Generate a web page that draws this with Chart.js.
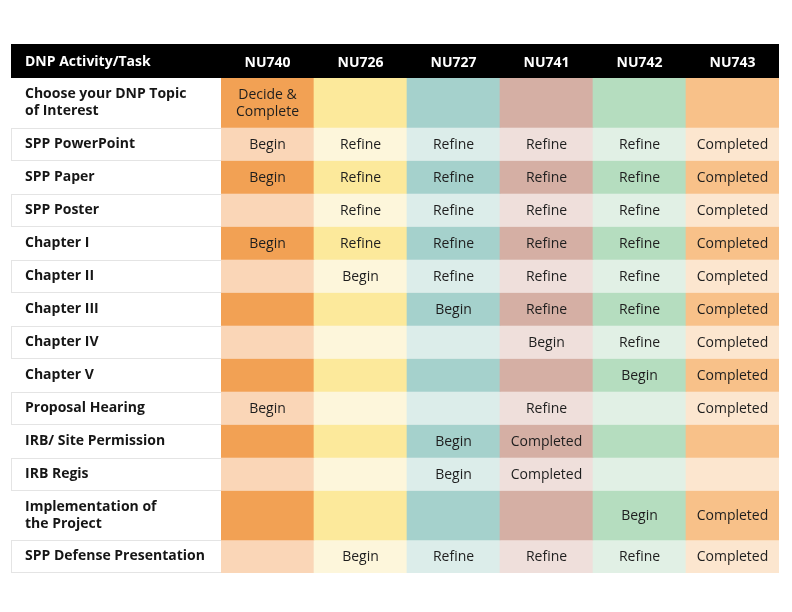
<!DOCTYPE html>
<html>
<head>
<meta charset="utf-8">
<script src="https://cdn.jsdelivr.net/npm/chart.js@4.4.1/dist/chart.umd.min.js"></script>
<style>
  html, body { margin: 0; padding: 0; background: #fff; }
  #wrap { width: 792px; height: 612px; }
</style>
</head>
<body>
<div id="wrap"><canvas id="chart"></canvas></div>
<script>
const courses = ['NU740', 'NU726', 'NU727', 'NU741', 'NU742', 'NU743'];
const tasks = [
  ['Choose your DNP Topic', 'of Interest'],
  'SPP PowerPoint',
  'SPP Paper',
  'SPP Poster',
  'Chapter I',
  'Chapter II',
  'Chapter III',
  'Chapter IV',
  'Chapter V',
  'Proposal Hearing',
  'IRB/ Site Permission',
  'IRB Regis',
  ['Implementation of', 'the Project'],
  'SPP Defense Presentation'
];
const headerTitle = 'DNP Activity/Task';

// what each course does for each task (same order as tasks)
const nu740 = ['Decide &\nComplete', 'Begin', 'Begin', '', 'Begin', '', '', '', '', 'Begin', '', '', '', ''];
const nu726 = ['', 'Refine', 'Refine', 'Refine', 'Refine', 'Begin', '', '', '', '', '', '', '', 'Begin'];
const nu727 = ['', 'Refine', 'Refine', 'Refine', 'Refine', 'Refine', 'Begin', '', '', '', 'Begin', 'Begin', '', 'Refine'];
const nu741 = ['', 'Refine', 'Refine', 'Refine', 'Refine', 'Refine', 'Refine', 'Begin', '', 'Refine', 'Completed', 'Completed', '', 'Refine'];
const nu742 = ['', 'Refine', 'Refine', 'Refine', 'Refine', 'Refine', 'Refine', 'Refine', 'Begin', '', '', '', 'Begin', 'Refine'];
const nu743 = ['', 'Completed', 'Completed', 'Completed', 'Completed', 'Completed', 'Completed', 'Completed', 'Completed', 'Completed', '', '', 'Completed', 'Completed'];
const cellText = [nu740, nu726, nu727, nu741, nu742, nu743];

const darkColors = ['#F2A154', '#FCE99B', '#A5D1CC', '#D5AFA4', '#B5DDBF', '#F8C189'];
const lightColors = ['#FAD6B7', '#FDF6DB', '#DCEDEA', '#EFDFDB', '#E1F0E5', '#FCE6CF'];
const fontFamily = '"Open Sans", "Noto Sans", sans-serif';

// row heights in half-line units: one-line rows take 2, two-line rows take 3
const rowSpans = tasks.map(t => (Array.isArray(t) ? t.length : 1) + 1);
const rowTops = [];
let total = 0;
rowSpans.forEach(s => { rowTops.push(total); total += s; });
const rowMids = rowTops.map((t, i) => t + rowSpans[i] / 2);

const datasets = tasks.map((t, r) => ({
  label: Array.isArray(t) ? t.join(' ') : t,
  data: courses.map(() => [rowTops[r], rowTops[r] + rowSpans[r]]),
  backgroundColor: r % 2 === 0 ? darkColors : lightColors,
  borderWidth: 0,
  grouped: false,
  categoryPercentage: 1,
  barPercentage: 1
}));

const tableDeco = {
  id: 'tableDeco',
  beforeDraw(chart) {
    const ctx = chart.ctx;
    const xs = chart.scales.x;
    const ys = chart.scales.y;
    const left = ys.left - 14;
    ctx.save();
    ctx.fillStyle = '#000';
    ctx.fillRect(left, xs.top, chart.chartArea.right - left, xs.bottom - xs.top);
    ctx.fillStyle = '#fff';
    ctx.font = 'bold 14px ' + fontFamily;
    ctx.textBaseline = 'middle';
    ctx.textAlign = 'left';
    ctx.fillText(headerTitle, ys.left, (xs.top + xs.bottom) / 2 + 1.5);

    // light grey boxes round the label cells of the pale rows
    ctx.strokeStyle = '#E4E4E4';
    ctx.lineWidth = 1;
    tasks.forEach((t, r) => {
      if (r % 2 === 0) return;
      const y0 = Math.round(ys.getPixelForValue(rowTops[r])) + 0.5;
      const y1 = Math.round(ys.getPixelForValue(rowTops[r] + rowSpans[r])) - 0.5;
      ctx.strokeRect(left + 0.5, y0, chart.chartArea.left - left, y1 - y0);
    });
    ctx.restore();
  },
  afterDatasetsDraw(chart) {
    const ctx = chart.ctx;
    ctx.save();
    ctx.fillStyle = '#1E1E1E';
    ctx.font = '14px ' + fontFamily;
    ctx.textAlign = 'center';
    ctx.textBaseline = 'middle';
    chart.data.datasets.forEach((ds, r) => {
      chart.getDatasetMeta(r).data.forEach((bar, c) => {
        const txt = cellText[c][r];
        if (!txt) return;
        const lines = txt.split('\n');
        const p = bar.getCenterPoint();
        lines.forEach((ln, k) => {
          ctx.fillText(ln, p.x, p.y + 1 + (k - (lines.length - 1) / 2) * 17);
        });
      });
    });
    ctx.restore();
  }
};

new Chart(document.getElementById('chart'), {
  type: 'bar',
  data: { labels: courses, datasets: datasets },
  options: {
    responsive: true,
    maintainAspectRatio: false,
    animation: false,
    indexAxis: 'x',
    layout: { padding: { top: 44, left: 25, right: 13, bottom: 39 } },
    plugins: {
      legend: { display: false },
      tooltip: { enabled: false }
    },
    scales: {
      x: {
        type: 'category',
        position: 'top',
        offset: true,
        grid: { display: false, drawTicks: false },
        border: { display: false },
        ticks: {
          color: '#fff',
          padding: 7,
          font: { family: fontFamily, size: 14, weight: 'bold' }
        },
        afterFit(scale) { scale.height = 34; }
      },
      y: {
        type: 'linear',
        reverse: true,
        min: 0,
        max: total,
        grid: { display: false, drawTicks: false },
        border: { display: false },
        afterBuildTicks(axis) {
          axis.ticks = rowMids.map(v => ({ value: v }));
        },
        afterFit(scale) { scale.width = 196; },
        ticks: {
          autoSkip: false,
          crossAlign: 'far',
          color: '#161616',
          font: { family: fontFamily, size: 14, weight: 'bold' },
          callback: (v, i) => tasks[i]
        }
      }
    }
  },
  plugins: [tableDeco]
});
</script>
</body>
</html>
